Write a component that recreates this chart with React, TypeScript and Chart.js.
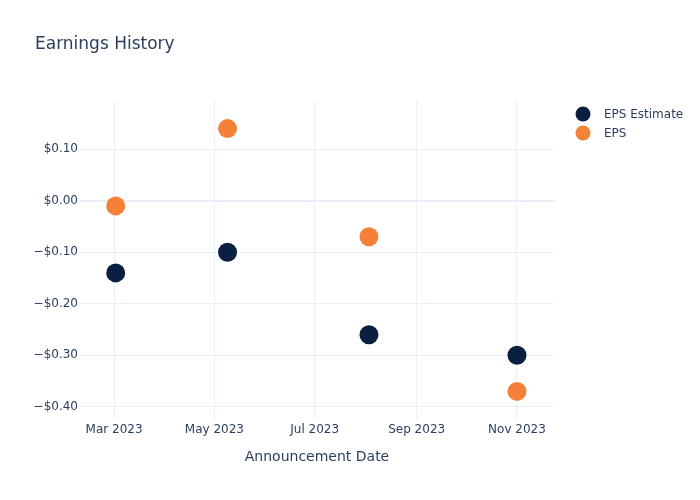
import React, { useEffect, useRef } from "react";
import { Chart, registerables } from "chart.js";

Chart.register(...registerables);

const announcementDates = ["2023-03-02", "2023-05-09", "2023-08-03", "2023-11-01"];
const epsEstimate = [-0.14, -0.1, -0.26, -0.3];
const epsActual = [-0.01, 0.14, -0.07, -0.37];
const xTickDates = ["2023-03-01", "2023-05-01", "2023-07-01", "2023-09-01", "2023-11-01"];
const yTickValues = [-0.4, -0.3, -0.2, -0.1, 0, 0.1];
const seriesNames = ["EPS Estimate", "EPS"];
const seriesColors = ["#0b1f41", "#f58139"];
const monthNames = ["Jan", "Feb", "Mar", "Apr", "May", "Jun", "Jul", "Aug", "Sep", "Oct", "Nov", "Dec"];

const FONT = "'DejaVu Sans', 'Open Sans', Verdana, sans-serif";
const TEXT = "#2a3f5f";
const GRID = "#ebf0f8";

const toMs = (s: string) => Date.parse(s + "T00:00:00Z");
const fmtMoney = (v: number) => {
  const r = Math.round(v * 100) / 100;
  const s = "$" + Math.abs(r).toFixed(2);
  return r < 0 ? "\u2212" + s : s;
};

const overlayPlugin = {
  id: "overlay",
  afterDraw(chart: any) {
    const ctx = chart.ctx;
    ctx.save();
    ctx.fillStyle = TEXT;
    ctx.font = `17px ${FONT}`;
    ctx.textAlign = "left";
    ctx.textBaseline = "middle";
    ctx.fillText("Earnings History", 35, 45);
    ctx.font = `12px ${FONT}`;
    seriesNames.forEach((name, i) => {
      const y = 114 + i * 19;
      ctx.beginPath();
      ctx.arc(583, y, 7.5, 0, Math.PI * 2);
      ctx.fillStyle = seriesColors[i];
      ctx.fill();
      ctx.fillStyle = TEXT;
      ctx.fillText(name, 604, y + 1);
    });
    ctx.restore();
  },
};

export default function App() {
  const ref = useRef<HTMLCanvasElement | null>(null);
  useEffect(() => {
    document.body.style.margin = "0";
    const canvas = ref.current!;
    const xs = announcementDates.map(toMs);
    const chart = new Chart(canvas, {
      type: "scatter",
      data: {
        datasets: [
          {
            label: seriesNames[0],
            data: xs.map((x, i) => ({ x, y: epsEstimate[i] })),
            backgroundColor: seriesColors[0],
            borderColor: seriesColors[0],
            pointRadius: 9.5,
            borderWidth: 0,
          },
          {
            label: seriesNames[1],
            data: xs.map((x, i) => ({ x, y: epsActual[i] })),
            backgroundColor: seriesColors[1],
            borderColor: seriesColors[1],
            pointRadius: 9.5,
            borderWidth: 0,
          },
        ],
      },
      options: {
        responsive: false,
        animation: false,
        events: [],
        layout: { padding: { left: 0, right: 146, top: 100, bottom: 0 } },
        plugins: { legend: { display: false }, tooltip: { enabled: false }, title: { display: false } },
        scales: {
          x: {
            type: "linear",
            min: toMs("2023-02-08") + 0.3 * 86400000,
            max: toMs("2023-11-23") + 0.5 * 86400000,
            afterBuildTicks: (scale: any) => {
              scale.ticks = xTickDates.map((d) => ({ value: toMs(d) }));
            },
            afterFit: (scale: any) => {
              scale.height = 80;
            },
            ticks: {
              autoSkip: false,
              maxRotation: 0,
              padding: 3,
              color: TEXT,
              font: { family: FONT, size: 12 },
              callback: (v: any) => {
                const d = new Date(Number(v));
                return `${monthNames[d.getUTCMonth()]} ${d.getUTCFullYear()}`;
              },
            },
            grid: { color: GRID, lineWidth: 1, drawTicks: false },
            border: { display: false },
            title: {
              display: true,
              text: "Announcement Date",
              color: TEXT,
              font: { family: FONT, size: 14 },
              padding: { top: 0, bottom: 34 },
            },
          },
          y: {
            type: "linear",
            min: -0.4255,
            max: 0.1955,
            afterBuildTicks: (scale: any) => {
              scale.ticks = yTickValues.map((value) => ({ value }));
            },
            afterFit: (scale: any) => {
              scale.width = 80;
            },
            ticks: {
              padding: 2,
              color: TEXT,
              font: { family: FONT, size: 12 },
              callback: (v: any) => fmtMoney(Number(v)),
            },
            grid: {
              color: GRID,
              lineWidth: (c: any) => (c.tick && Math.abs(c.tick.value) < 1e-9 ? 2 : 1),
              drawTicks: false,
            },
            border: { display: false },
          },
        },
      },
      plugins: [overlayPlugin],
    } as any);
    return () => chart.destroy();
  }, []);
  return <canvas ref={ref} width={700} height={500} />;
}
